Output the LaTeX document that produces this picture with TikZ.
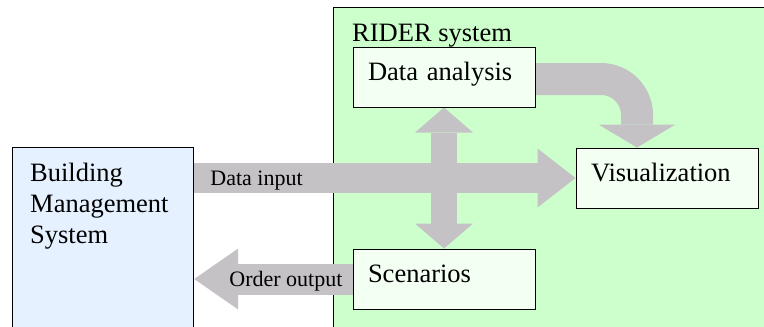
\documentclass[tikz,border=0pt]{standalone}
\usepackage{fontspec}
\setmainfont{Liberation Serif}
\usetikzlibrary{positioning, arrows.meta}
\definecolor{bmsblue}{HTML}{E6F1FF}
\definecolor{ridergreen}{HTML}{CCFFCC}
\definecolor{boxwhite}{HTML}{F3FFF3}
\definecolor{flowgray}{HTML}{C5C2C6}
\tikzset{
  panel/.style={
    draw, line width=1.2pt,
    anchor=north west, inner sep=0pt,
  },
  box/.style={
    draw, line width=1pt, fill=boxwhite,
    text width=152pt, inner xsep=15pt, inner ysep=0pt,
    text height=18pt, text depth=11pt,
    minimum height=60pt, align=left,
    font=\fontsize{26.5}{31}\selectfont,
  },
  title/.style={
    inner sep=0pt, align=left,
    font=\fontsize{26.5}{31}\selectfont,
  },
  flow/.style={
    draw=flowgray, line width=#1,
  },
  flowlabel/.style={
    anchor=base west, inner sep=0pt,
    font=\fontsize{22}{26}\selectfont,
  },
}
\pgfdeclarelayer{back}
\pgfdeclarelayer{flows}
\pgfsetlayers{back, flows, main}

\begin{document}
\begin{tikzpicture}[x=1pt, y=-1pt]
\useasboundingbox (0,0) rectangle (764,327);
\clip (0,0) rectangle (764,327);
\begin{pgfonlayer}{back}
  \node[panel, fill=bmsblue, minimum width=181pt, minimum height=200pt] (bms) at (12,147) {};
  \node[panel, fill=ridergreen, minimum width=450pt, minimum height=340pt] (rider) at (333,7) {};
\end{pgfonlayer}

\node[title, anchor=north west] (bmstitle) at ([xshift=18pt, yshift=-16pt]bms.north west) {Building\\Management\\System};
\node[title, anchor=base west] (ridertitle) at ([xshift=19pt, yshift=-34pt]rider.north west) {RIDER system};

\node[box] (analysis) at (444,77) {Data analysis};
\node[box, below right=40pt and 40pt of analysis] (visual) {Visualization};
\node[box, below=141pt of analysis] (scenarios) {Scenarios};

\begin{pgfonlayer}{flows}
  \draw[flow=30pt, -{Triangle[width=59pt, length=38pt, line width=0pt]}]
    (bms.east |- visual.west) -- (visual.west);
  \draw[flow=31pt, -{Triangle[width=61pt, length=44pt, line width=0pt]}]
    (scenarios.west) -- (bms.east |- scenarios.west);
  \draw[flow=26pt, {Triangle[width=58pt, length=25pt, line width=0pt]}-{Triangle[width=58pt, length=25pt, line width=0pt]}]
    (analysis.south) -- (scenarios.north);
  \draw[flow=32pt, rounded corners=36pt, -{Triangle[width=77pt, length=23pt, line width=0pt]}]
    ([yshift=-2pt]analysis.east) -| ([xshift=-30pt]visual.north);
\end{pgfonlayer}

\node[flowlabel] (inlabel) at ([xshift=16pt, yshift=-7.5pt]bms.east |- visual.west) {Data input};
\node[flowlabel] (outlabel) at ([xshift=35pt, yshift=-7pt]bms.east |- scenarios.west) {Order output};
\end{tikzpicture}
\end{document}
